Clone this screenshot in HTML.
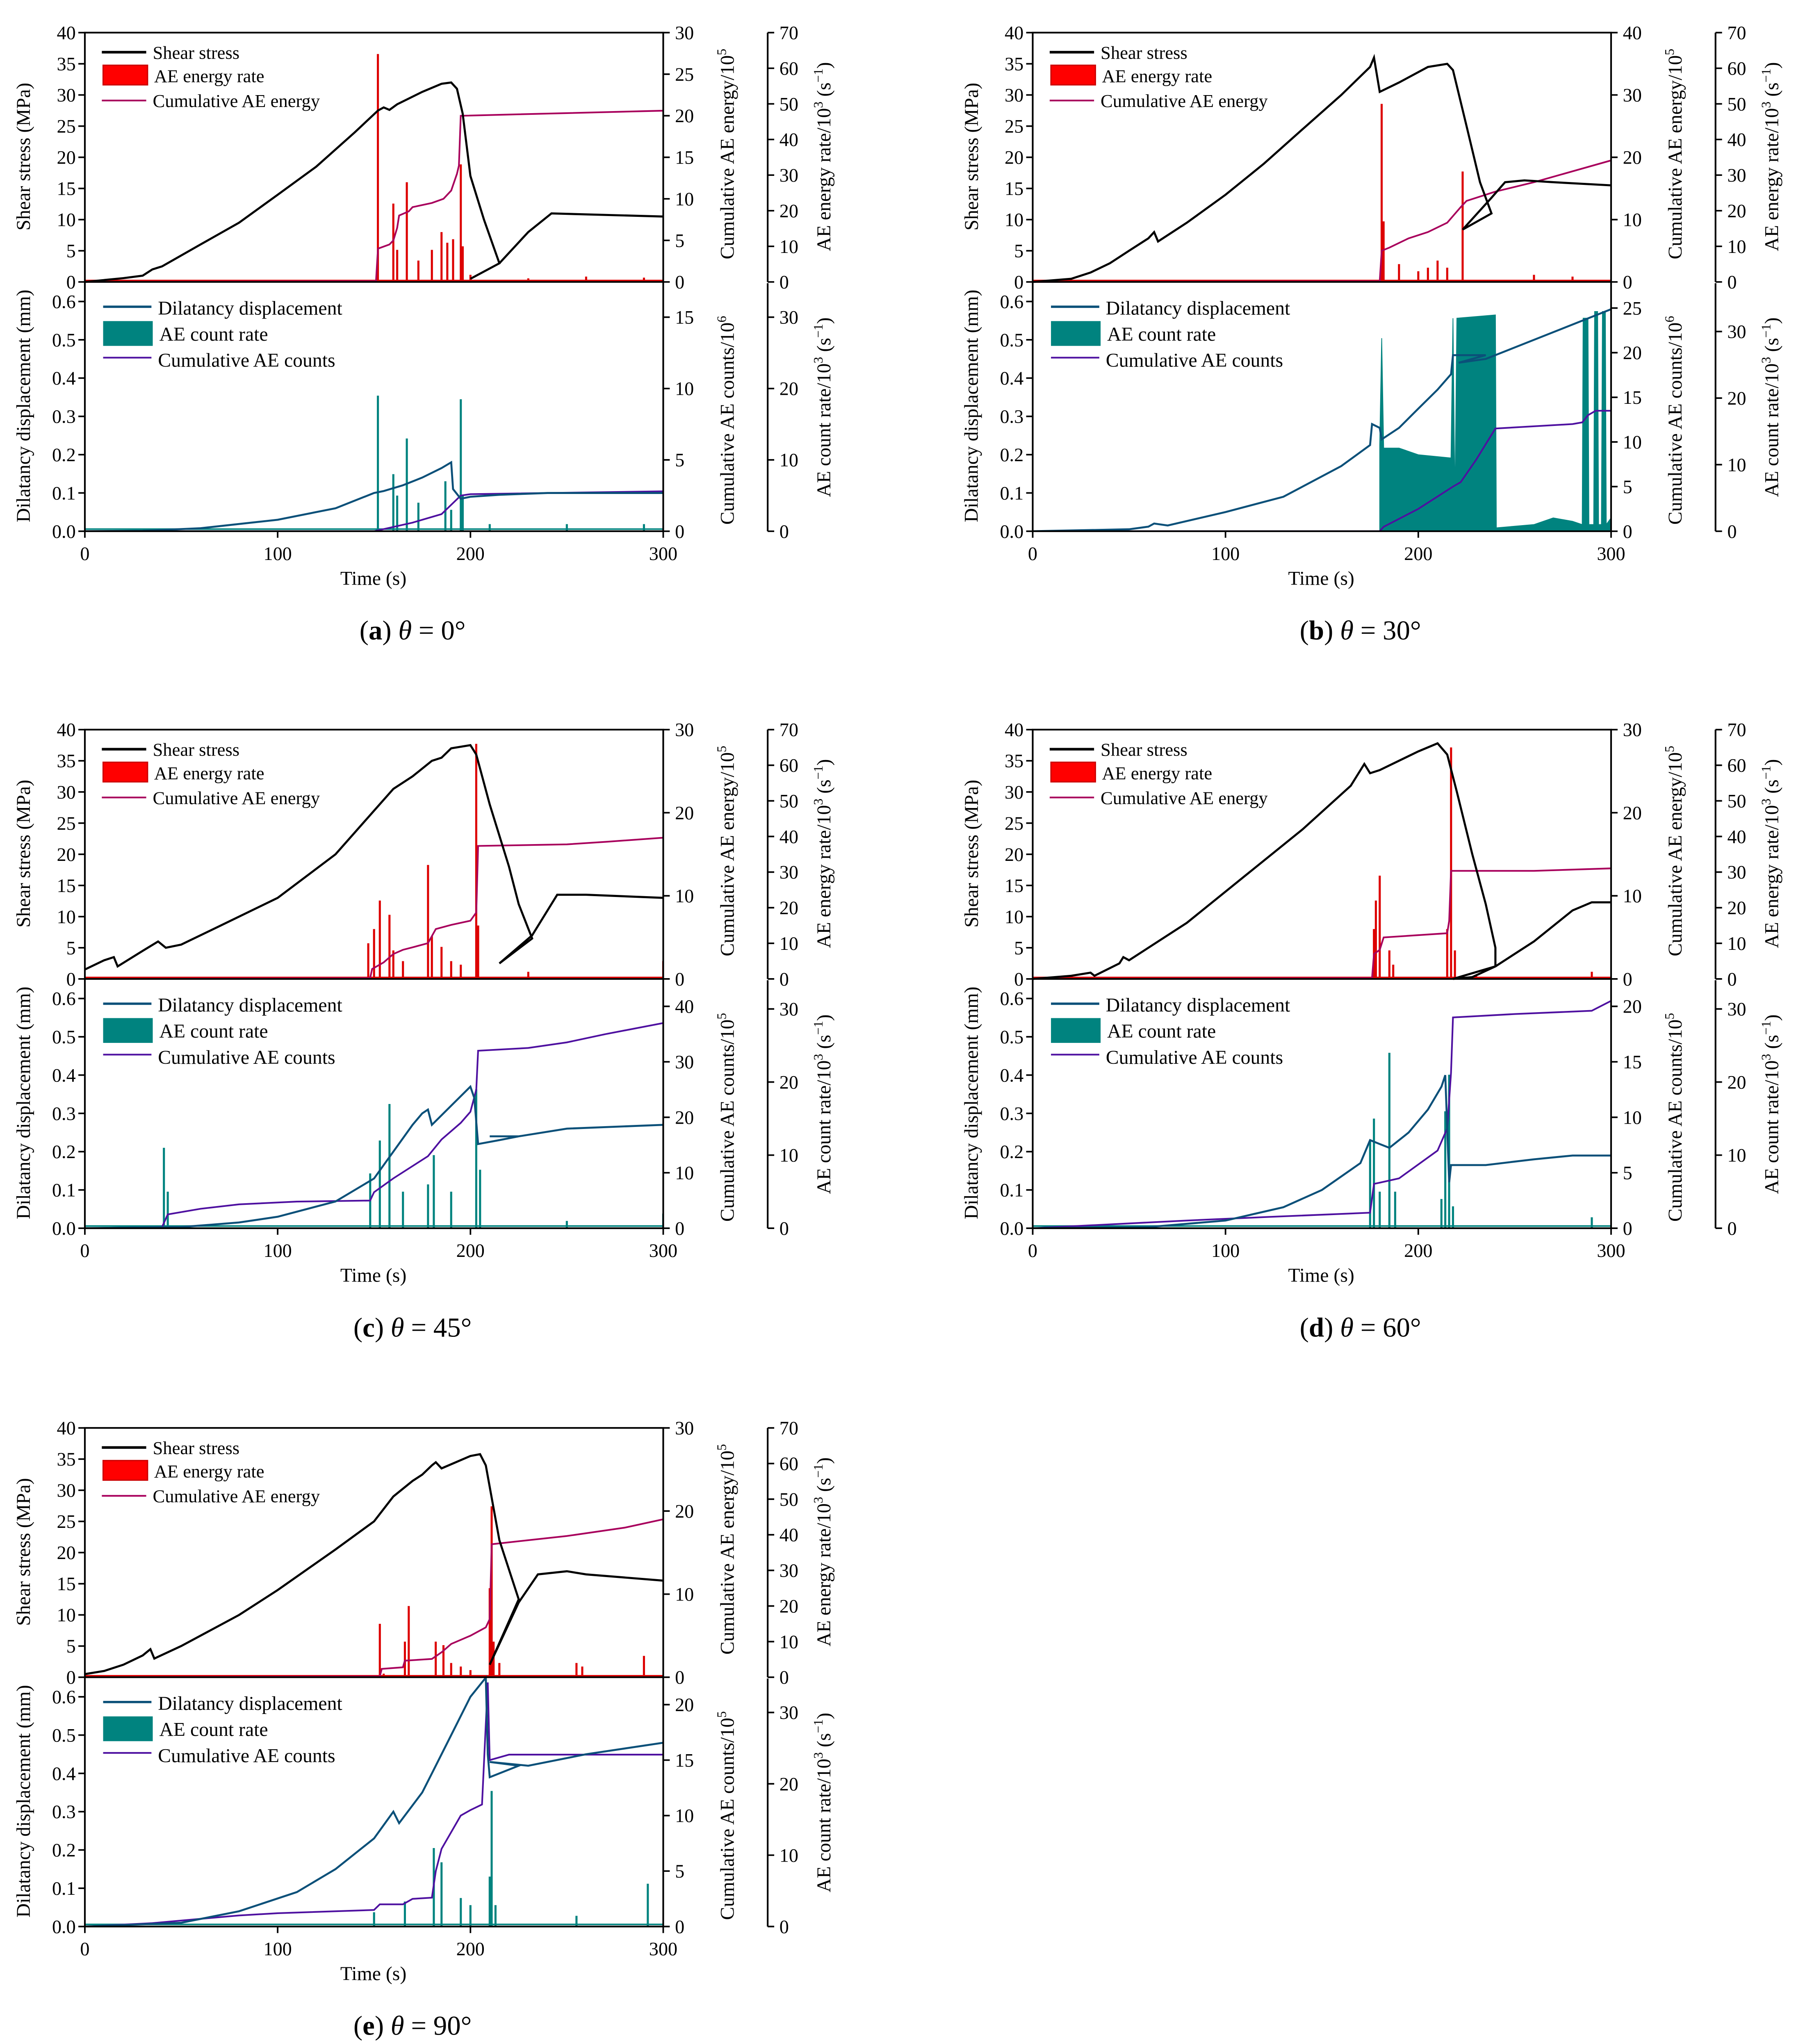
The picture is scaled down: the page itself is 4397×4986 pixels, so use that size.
<!DOCTYPE html>
<html><head><meta charset="utf-8"><title>Shear stress and AE panels</title>
<style>
html,body{margin:0;padding:0;background:#fff;}
svg{display:block;font-family:"Liberation Serif",serif;}
</style></head>
<body>
<svg id="fig" xmlns="http://www.w3.org/2000/svg" width="4397" height="4986" viewBox="0 0 1381 1566" preserveAspectRatio="none"></svg>
<script>
// ===== Data (time s, value in axis units) =====
// Panel a (theta = 0)
const aShear=[[0,0],[20,0.6],[30,1],[35,2],[40,2.5],[60,6],[80,9.5],[100,14],[120,18.5],[140,24],[152,27.5],[155,28],[158,27.6],[162,28.5],[175,30.5],[185,31.8],[190,32],[193,31],[196,27],[200,17],[207,10],[215,3],[200,0.5],[215,3],[230,8],[242,11],[300,10.5]];
const aCumE=[[0,0],[151,0.1],[152,4],[158,4.5],[160,5],[162,6.5],[163,8],[168,8.5],[170,9],[180,9.5],[186,10],[190,11],[193,13],[194,14],[195,20],[300,20.6]];
const aERate=[[152,64],[160,22],[162,9],[167,28],[173,6],[180,9],[185,14],[188,11],[191,12],[195,33],[196,10],[200,2],[230,1],[260,1.5],[290,1.2]];
const aDil=[[0,0],[30,0.001],[60,0.008],[100,0.03],[130,0.06],[150,0.1],[155,0.105],[165,0.12],[175,0.14],[185,0.165],[190,0.18],[191,0.11],[195,0.085],[200,0.09],[215,0.095],[240,0.1],[300,0.1]];
const aCRate=[[152,19],[160,8],[162,5],[167,13],[173,4],[187,7],[190,3],[195,18.5],[196,5],[210,1],[250,1],[290,1]];
const aCumC=[[0,0],[150,0],[160,0.3],[170,0.6],[185,1.2],[195,2.5],[200,2.6],[300,2.8]];
// Panel b (theta = 30)
const bShear=[[0,0],[20,0.5],[30,1.5],[40,3],[50,5],[60,7],[63,8],[65,6.5],[80,9.5],[100,14],[120,19],[140,24.5],[160,30],[175,34.5],[177,36],[180,30.5],[190,32],[205,34.5],[215,35],[218,34],[225,25],[232,16],[238,11],[223,8.4],[238,13.5],[245,16],[255,16.3],[270,16],[300,15.5]];
const bCumE=[[0,0],[180,0.1],[181,5],[185,5.5],[195,7],[205,8],[215,9.5],[222,12],[225,13],[240,14.5],[260,16],[300,19.5]];
const bERate=[[181,50],[182,17],[190,5],[200,3],[205,4],[210,6],[215,4],[223,31],[260,2],[280,1.5]];
const bDil=[[0,0],[50,0.005],[60,0.012],[63,0.02],[70,0.015],[100,0.05],[130,0.09],[160,0.17],[175,0.225],[176,0.28],[180,0.27],[181,0.24],[190,0.27],[200,0.32],[210,0.37],[217,0.41],[218,0.46],[235,0.46],[221,0.44],[235,0.45],[250,0.48],[270,0.52],[300,0.58]];
const bCRateArea=[[180,0],[180,13],[181,29],[182,12.5],[190,12.5],[200,11.5],[217,11],[218,32],[219,4],[220,32],[240,32.5],[240.5,0.5],[260,1],[270,2],[280,1.5],[285,1],[285.5,32],[288,32],[288.5,1],[291,1],[291.5,33],[293,33],[293.5,1],[295,1],[295.5,33],[297,33],[297.5,1],[300,2],[300,0]];
const bCumC=[[0,0],[180,0],[182,0.5],[200,2.5],[218,5],[222,5.5],[230,8],[240,11.5],[280,12],[285,12.2],[288,13],[292,13.5],[300,13.5]];
// Panel c (theta = 45)
const cShear=[[0,1.5],[10,3],[15,3.5],[17,2],[30,4.5],[38,6],[42,5],[50,5.5],[70,8.5],[100,13],[130,20],[150,27],[160,30.5],[170,32.5],[180,35],[185,35.5],[190,37],[200,37.5],[203,36],[210,28],[220,18],[225,12],[232,6.5],[215,2.5],[232,7],[245,13.5],[260,13.5],[300,13]];
const cCumE=[[0,0],[148,0.1],[149,1.2],[155,2],[160,3],[165,3.5],[170,3.8],[178,4.3],[182,6],[190,6.5],[200,7],[203,8],[204,16],[250,16.2],[270,16.5],[300,17]];
const cERate=[[147,10],[150,14],[153,22],[158,18],[160,8],[165,5],[178,32],[180,12],[185,9],[190,5],[195,4],[203,66],[204,15],[230,2],[300,5]];
const cDil=[[0,0],[50,0.003],[80,0.015],[100,0.03],[130,0.07],[150,0.13],[160,0.2],[170,0.27],[175,0.3],[178,0.31],[180,0.27],[190,0.32],[200,0.37],[202,0.34],[204,0.22],[215,0.23],[225,0.24],[210,0.24],[225,0.24],[250,0.26],[300,0.27]];
const cCRate=[[41,11],[43,5],[148,7.5],[153,12],[158,17],[165,5],[178,6],[181,10],[190,5],[203,19],[205,8],[250,1],[300,2]];
const cCumC=[[0,0],[40,0.2],[43,2.5],[60,3.5],[80,4.3],[110,4.8],[148,5],[150,6.5],[160,9],[178,13],[185,16],[195,19],[200,21],[203,25],[204,32],[230,32.5],[250,33.5],[270,35],[300,37]];
// Panel d (theta = 60)
const dShear=[[0,0],[20,0.5],[30,1],[32,0.5],[45,2.5],[47,3.5],[50,3],[80,9],[110,16.5],[140,24],[165,31],[172,34.5],[175,33],[180,33.5],[200,36.5],[210,37.8],[215,36],[220,30],[228,20],[235,12],[240,5],[240,2],[228,0.3],[218,0],[240,2],[260,6],[280,11],[290,12.3],[300,12.3]];
const dCumE=[[0,0],[176,0.1],[177,3],[180,3.5],[182,5],[215,5.5],[216,7],[217,13],[260,13],[300,13.3]];
const dERate=[[177,14],[178,22],[180,29],[185,8],[187,4],[215,14],[217,65],[219,8],[230,1],[290,2]];
const dDil=[[0,0],[60,0.003],[100,0.02],[130,0.055],[150,0.1],[170,0.17],[175,0.23],[180,0.22],[185,0.21],[195,0.25],[205,0.31],[212,0.37],[214,0.4],[216,0.12],[217,0.165],[235,0.165],[260,0.18],[280,0.19],[300,0.19]];
const dCRate=[[175,12],[177,15],[180,5],[185,24],[188,5],[212,4],[214,16],[216,21],[218,3],[290,1.5]];
const dCumC=[[0,0],[80,0.7],[120,1],[175,1.4],[177,4],[180,4.1],[190,4.5],[210,7],[215,9],[217,14],[218,19],[250,19.3],[290,19.6],[300,20.5]];
// Panel e (theta = 90)
const eShear=[[0,0.5],[10,1],[20,2],[30,3.5],[34,4.5],[36,3],[50,5],[80,10],[100,14],[130,20.5],[150,25],[160,29],[170,31.5],[175,32.5],[180,34],[182,34.5],[185,33.5],[200,35.5],[205,35.8],[208,34],[215,22],[225,12.5],[210,2],[225,12],[235,16.5],[250,17],[260,16.5],[300,15.5]];
const eCumE=[[0,0],[153,0.1],[154,1],[165,1.2],[166,2],[180,2.2],[185,3],[190,4],[200,5],[208,6],[210,7],[211,16],[230,16.5],[250,17],[280,18],[300,19]];
const eERate=[[153,15],[155,1],[166,10],[168,20],[182,10],[186,9],[190,4],[195,3],[200,2],[210,25],[211,48],[212,10],[215,4],[255,4],[258,3],[290,6]];
const eDil=[[0,0],[50,0.01],[80,0.04],[110,0.09],[130,0.15],[150,0.23],[160,0.3],[163,0.27],[175,0.35],[180,0.4],[190,0.5],[200,0.6],[208,0.65],[209,0.45],[210,0.39],[225,0.42],[210,0.43],[230,0.42],[260,0.45],[300,0.48]];
const eCRate=[[150,2],[166,3.5],[181,11],[185,9],[195,4],[200,3],[210,7],[211,19],[213,3],[255,1.5],[292,6]];
const eCumC=[[0,0],[35,0.3],[60,0.7],[80,1],[100,1.2],[150,1.5],[153,2],[165,2],[170,2.5],[180,2.6],[182,5],[185,7],[195,10],[200,10.5],[206,11],[209,22],[210,15],[220,15.5],[300,15.5]];

// tick labels
const xTicks=[0,100,200,300];
const shearTicks=[0,5,10,15,20,25,30,35,40];
const dilTicks=[0,0.1,0.2,0.3,0.4,0.5,0.6];
const eRateTicks=[0,10,20,30,40,50,60,70];

// ===== Drawing =====
const NS="http://www.w3.org/2000/svg";
const svg=document.getElementById('fig');
const C={shear:'#000',erate:'#dd0000',cumE:'#a8005c',dil:'#0b5079',crate:'#00837f',cumC:'#4e10a0'};
function mk(tag,attrs,parent){const e=document.createElementNS(NS,tag);for(const k in attrs)e.setAttribute(k,attrs[k]);(parent||svg).appendChild(e);return e;}
function txt(x,y,s,size,anchor,parent,rot){const t=mk('text',{x:x,y:y,'font-size':size,'text-anchor':anchor||'start'},parent);if(rot)t.setAttribute('transform','rotate(-90 '+x+' '+y+')');t.textContent=s;return t;}

const panels=[
 {id:'a',ox:0,oy:0,ang:'0',sh:aShear,ce:aCumE,er:aERate,di:aDil,cr:aCRate,cc:aCumC,ceMax:30,ceStep:5,ccTop:243,ccMax:15,ccStep:5,crTop:243,crMax:30,ccUnit:'6'},
 {id:'b',ox:726,oy:0,ang:'30',sh:bShear,ce:bCumE,er:bERate,di:bDil,crArea:bCRateArea,cc:bCumC,ceMax:40,ceStep:10,ccTop:236,ccMax:25,ccStep:5,crTop:254,crMax:30,ccUnit:'6'},
 {id:'c',ox:0,oy:534,ang:'45',sh:cShear,ce:cCumE,er:cERate,di:cDil,cr:cCRate,cc:cCumC,ceMax:30,ceStep:10,ccTop:237,ccMax:40,ccStep:10,crTop:239,crMax:30,ccUnit:'5'},
 {id:'d',ox:726,oy:534,ang:'60',sh:dShear,ce:dCumE,er:dERate,di:dDil,cr:dCRate,cc:dCumC,ceMax:30,ceStep:10,ccTop:237,ccMax:20,ccStep:5,crTop:239,crMax:30,ccUnit:'5'},
 {id:'e',ox:0,oy:1069,ang:'90',sh:eShear,ce:eCumE,er:eERate,di:eDil,cr:eCRate,cc:eCumC,ceMax:30,ceStep:10,ccTop:237,ccMax:20,ccStep:5,crTop:243,crMax:30,ccUnit:'5'}
];

panels.forEach(p=>{
 const g=mk('g',{transform:'translate('+p.ox+','+p.oy+')'});
 
 
 const L=65,R=508,T=25,M=216,B=407;
 const X=t=>L+t*(R-L)/300;
 const Ysh=v=>M-v*(M-T)/40;
 const Yce=v=>M-v*(M-T)/p.ceMax;
 const Yer=v=>M-v*(M-T)/70;
 const Ydi=v=>B-v*(B-231)/0.6;
 const Ycc=v=>B-v*(B-p.ccTop)/p.ccMax;
 const Ycr=v=>B-v*(B-p.crTop)/p.crMax;
 const pathOf=(arr,Y)=>arr.map((d,i)=>(i?'L':'M')+X(d[0]).toFixed(1)+' '+Y(d[1]).toFixed(1)).join(' ');
 const clip=mk('clipPath',{id:'clip'+p.id},g);
 mk('rect',{x:L,y:T,width:R-L,height:B-T},clip);
 const plot=mk('g',{'clip-path':'url(#clip'+p.id+')'},g);
 
 

 // top: energy rate spikes
 const base=mk('line',{x1:L,x2:R,y1:Yer(0.4),y2:Yer(0.4),stroke:C.erate,'stroke-width':1.2},plot);
 
 
 p.er.forEach(d=>{
  const s=mk('line',{x1:X(d[0]),x2:X(d[0]),y1:Yer(0),y2:Yer(d[1]),stroke:C.erate,'stroke-width':1.6},plot);
  
  
 });
 const ce=mk('path',{d:pathOf(p.ce,Yce),fill:'none',stroke:C.cumE,'stroke-width':1.3},plot);
 
 
 const sh=mk('path',{d:pathOf(p.sh,Ysh),fill:'none',stroke:C.shear,'stroke-width':1.6},plot);
 
 

 // bottom
 if(p.crArea){
  const a=mk('path',{d:pathOf(p.crArea,Ycr)+' Z',fill:C.crate,stroke:C.crate,'stroke-width':0.6},plot);
  
  
 } else {
  const b2=mk('line',{x1:L,x2:R,y1:Ycr(0.3),y2:Ycr(0.3),stroke:C.crate,'stroke-width':1.2},plot);
  
  
  p.cr.forEach(d=>{
   const s=mk('line',{x1:X(d[0]),x2:X(d[0]),y1:Ycr(0),y2:Ycr(d[1]),stroke:C.crate,'stroke-width':1.6},plot);
   
   
  });
 }
 const cc=mk('path',{d:pathOf(p.cc,Ycc),fill:'none',stroke:C.cumC,'stroke-width':1.3},plot);
 
 
 const di=mk('path',{d:pathOf(p.di,Ydi),fill:'none',stroke:C.dil,'stroke-width':1.5},plot);
 
 

 // frames
 const fr=mk('path',{d:`M${L} ${T} H${R} V${B} H${L} Z M${L} ${M} H${R}`,fill:'none',stroke:'#000','stroke-width':1.3},g);
 
 
 const ax2=mk('path',{d:`M588 ${T} V${M} M588 ${M+1} V${B}`,fill:'none',stroke:'#000','stroke-width':1.3},g);
 
 

 const FS=14.5;
 xTicks.forEach(t=>{mk('line',{x1:X(t),x2:X(t),y1:B,y2:B+5,stroke:'#000','stroke-width':1.2},g);const l=txt(X(t),B+22,String(t),FS,'middle',g);});
 shearTicks.forEach(v=>{mk('line',{x1:L-5,x2:L,y1:Ysh(v),y2:Ysh(v),stroke:'#000','stroke-width':1.2},g);const l=txt(L-7,Ysh(v)+5,String(v),FS,'end',g);});
 dilTicks.forEach(v=>{mk('line',{x1:L-5,x2:L,y1:Ydi(v),y2:Ydi(v),stroke:'#000','stroke-width':1.2},g);const l=txt(L-7,Ydi(v)+5,v.toFixed(1),FS,'end',g);});
 for(let v=0;v<=p.ceMax;v+=p.ceStep){mk('line',{x1:R,x2:R+5,y1:Yce(v),y2:Yce(v),stroke:'#000','stroke-width':1.2},g);const l=txt(R+9,Yce(v)+5,String(v),FS,'start',g);}
 eRateTicks.forEach(v=>{mk('line',{x1:588,x2:593,y1:Yer(v),y2:Yer(v),stroke:'#000','stroke-width':1.2},g);const l=txt(597,Yer(v)+5,String(v),FS,'start',g);});
 for(let v=0;v<=p.ccMax;v+=p.ccStep){mk('line',{x1:R,x2:R+5,y1:Ycc(v),y2:Ycc(v),stroke:'#000','stroke-width':1.2},g);const l=txt(R+9,Ycc(v)+5,String(v),FS,'start',g);}
 for(let v=0;v<=p.crMax;v+=10){mk('line',{x1:588,x2:593,y1:Ycr(v),y2:Ycr(v),stroke:'#000','stroke-width':1.2},g);const l=txt(597,Ycr(v)+5,String(v),FS,'start',g);}

 // axis titles
 const t1=txt(23,120,'Shear stress (MPa)',15,'middle',g,true);
 const t2=txt(23,311,'Dilatancy displacement (mm)',15,'middle',g,true);
 const t3=txt(286,448,'Time (s)',15,'middle',g);
 const t4=txt(562,118,'',15,'middle',g,true);t4.innerHTML='Cumulative AE energy/10<tspan dy="-6" font-size="10">5</tspan>';
 const t5=txt(636,120,'',15,'middle',g,true);t5.innerHTML='AE energy rate/10<tspan dy="-6" font-size="10">3</tspan><tspan dy="6"> (s</tspan><tspan dy="-6" font-size="10">−1</tspan><tspan dy="6">)</tspan>';
 const t6=txt(562,322,'',15,'middle',g,true);t6.innerHTML='Cumulative AE counts/10<tspan dy="-6" font-size="10">'+p.ccUnit+'</tspan>';
 const t7=txt(636,312,'',15,'middle',g,true);t7.innerHTML='AE count rate/10<tspan dy="-6" font-size="10">3</tspan><tspan dy="6"> (s</tspan><tspan dy="-6" font-size="10">−1</tspan><tspan dy="6">)</tspan>';

 // legends
 const lg=mk('g',{},g);
 
 
 mk('line',{x1:78,x2:112,y1:40,y2:40,stroke:C.shear,'stroke-width':2},lg);
 txt(117,45,'Shear stress',14,'start',lg);
 mk('rect',{x:79,y:50,width:34,height:15,fill:'#ff0000',stroke:'#cc0000','stroke-width':1},lg);
 txt(118,63,'AE energy rate',14,'start',lg);
 mk('line',{x1:78,x2:112,y1:77,y2:77,stroke:C.cumE,'stroke-width':1.3},lg);
 txt(117,82,'Cumulative AE energy',14,'start',lg);
 const lg2=mk('g',{},g);
 
 
 mk('line',{x1:79,x2:116,y1:235,y2:235,stroke:C.dil,'stroke-width':1.8},lg2);
 txt(121,241,'Dilatancy displacement',15,'start',lg2);
 mk('rect',{x:79,y:246,width:38,height:19,fill:C.crate},lg2);
 txt(122,261,'AE count rate',15,'start',lg2);
 mk('line',{x1:79,x2:116,y1:274,y2:274,stroke:C.cumC,'stroke-width':1.3},lg2);
 txt(121,281,'Cumulative AE counts',15,'start',lg2);

 // caption
 const cap=txt(316,490,'',21,'middle',g);
 cap.innerHTML='(<tspan font-weight="bold">'+p.id+'</tspan>) <tspan font-style="italic">θ</tspan> = '+p.ang+'°';
 
 
});
</script>
</body></html>
